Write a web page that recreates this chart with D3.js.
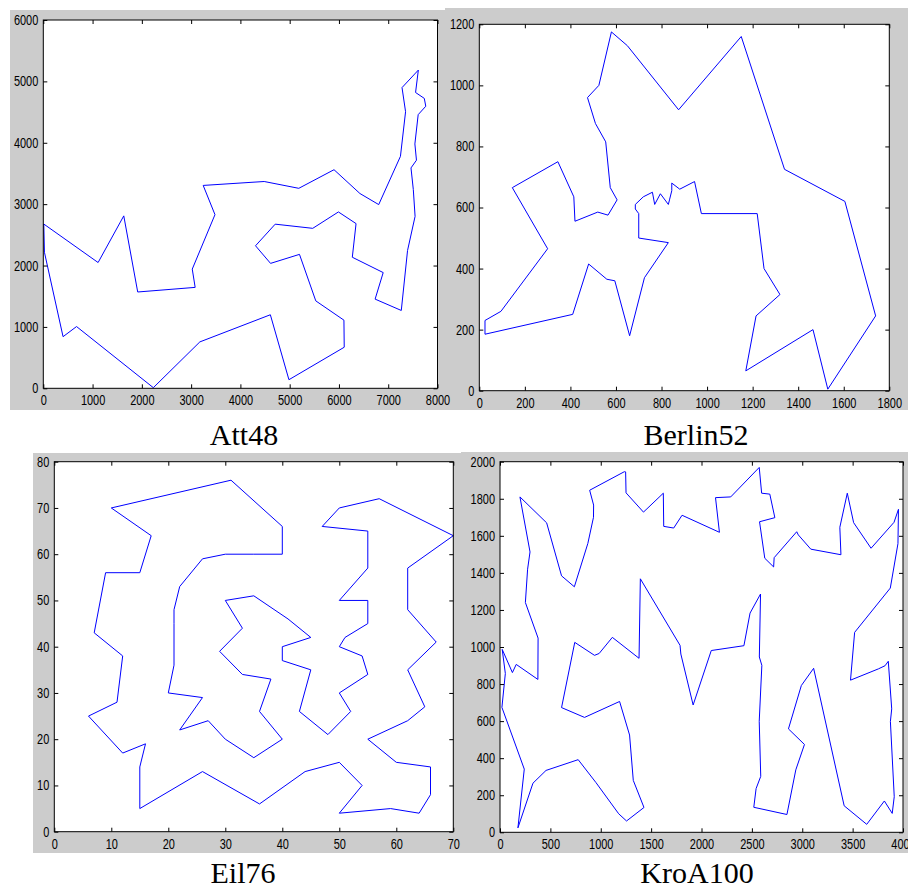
<!DOCTYPE html>
<html>
<head>
<meta charset="utf-8">
<style>
body { margin: 0; background: #fff; }
</style>
</head>
<body>
<script src="https://d3js.org/d3.v7.min.js"></script>
<script>
// window dimensions
var svgWidth = 908;
var svgHeight = 887;

// Att48 tour, cities in visiting order
var att48X = [6734,7265,7392,7545,7509,7462,7573,7541,7608,7762,7732,7555,7611,7280,7352,7248,6807,6426,5900,5185,4483,3245,3484,3023,3082,1916,1633,1112,10,23,401,675,2233,3177,4608,4985,6107,6101,5530,5199,4612,4307,4706,5468,5989,6347,6271,6898]
var att48Y = [1453,1268,2244,2801,3239,3590,3716,3981,4458,4595,4723,4819,5184,4899,4506,3779,2993,3173,3561,3258,3369,3305,2829,1942,1644,1569,2809,2049,2676,2216,841,1006,10,756,1198,140,669,1110,1424,2182,2035,2322,2674,2606,2873,2683,2135,1885]
var att48XTicks = [0,1000,2000,3000,4000,5000,6000,7000,8000]
var att48YTicks = [0,1000,2000,3000,4000,5000,6000]

// Berlin52 tour
var berlin52X = [565,605,575,555,510,475,525,580,650,875,1150,1340,1605,1740,1530,1465,1170,1215,1320,1250,1220,975,945,880,845,845,835,830,795,770,760,720,685,685,700,700,830,725,660,595,560,480,410,25,25,95,300,145,345,415,420,520]
var berlin52Y = [575,625,665,815,875,960,1000,1175,1130,920,1160,725,620,245,5,200,65,245,315,400,580,580,685,660,680,655,625,610,645,610,650,635,610,595,580,500,485,370,180,360,365,415,250,185,230,260,465,665,750,635,555,585]
var berlin52XTicks = [0,200,400,600,800,1000,1200,1400,1600,1800]
var berlin52YTicks = [0,200,400,600,800,1000,1200]

// Eil76 tour
var eil76X = [10,31,40,40,35,30,26,22,21,21,21,20,26,22,27,30,35,40,36,38,33,29,33,30,35,41,45,40,40,45,43,48,52,50,55,54,50,51,55,55,50,55,55,47,50,57,70,62,62,67,62,65,62,55,60,66,66,64,59,50,54,50,44,36,26,15,15,16,12,6,11,12,7,9,15,17]
var eil76Y = [70,76,66,60,60,60,59,53,48,45,36,30,29,22,24,20,16,20,26,33,34,39,44,50,51,46,42,40,37,35,26,21,26,30,34,38,40,42,45,50,50,57,65,66,70,72,64,57,48,41,35,27,24,20,15,14,8,4,5,4,10,15,13,6,13,5,14,19,17,25,28,38,43,56,56,64]
var eil76XTicks = [0,10,20,30,40,50,60,70]
var eil76YTicks = [0,10,20,30,40,50,60,70,80]

// KroA100 tour
var kroA100X = [198,463,611,738,872,928,929,890,1234,1247,1251,1424,1621,1625,1724,1807,2178,2139,2290,2573,2597,2678,2728,2576,2628,2716,2721,2945,2961,3085,3384,3373,3447,3510,3683,3911,3955,3950,3874,3520,3479,3756,3822,3854,3888,3875,3913,3893,3815,3640,3416,3113,2991,2863,3022,2936,2848,2519,2542,2588,2573,2599,2574,2586,2482,2421,2097,1917,1795,1787,1393,1380,1115,984,938,742,611,839,1187,1286,1323,1429,1256,1178,953,776,457,327,178,241,19,53,22,123,161,376,378,252,274,298]
var kroA100Y = [1810,1670,1384,1325,1559,1700,1766,1846,1946,1945,1832,1728,1830,1651,1642,1711,1619,1806,1810,1969,1830,1825,1698,1676,1479,1432,1482,1622,1605,1528,1498,1646,1830,1671,1533,1673,1743,1558,1318,1079,821,882,899,923,666,598,192,102,169,43,143,885,792,558,474,337,96,135,236,302,599,901,946,1286,1183,1007,981,687,962,1009,1368,939,1052,965,955,1025,673,620,706,525,280,134,61,100,268,392,334,265,24,341,674,857,987,862,906,825,1048,1240,1420,1513]
var kroA100XTicks = [0,500,1000,1500,2000,2500,3000,3500,4000]
var kroA100YTicks = [0,200,400,600,800,1000,1200,1400,1600,1800,2000]

var svg = d3.select('body').append('svg')
	.attr('width', svgWidth)
	.attr('height', svgHeight)

// placement of each panel: gray figure area, axes box, title
var panels = [
	{title:'Att48', xs:att48X, ys:att48Y, xt:att48XTicks, yt:att48YTicks,
	 bg:[10,10,437,400], box:[43.3,20,437.5,388.3], tx:244, ty:445},
	{title:'Berlin52', xs:berlin52X, ys:berlin52Y, xt:berlin52XTicks, yt:berlin52YTicks,
	 bg:[445,8,463,402], box:[479.3,24.3,889.3,390.7], tx:696, ty:445},
	{title:'Eil76', xs:eil76X, ys:eil76Y, xt:eil76XTicks, yt:eil76YTicks,
	 bg:[33,453,430,400], box:[54.3,461.7,453.3,831.7], tx:243, ty:883},
	{title:'KroA100', xs:kroA100X, ys:kroA100Y, xt:kroA100XTicks, yt:kroA100YTicks,
	 bg:[461,452,447,401], box:[500,461.7,903,832.3], tx:697, ty:883}
]

// gray backgrounds first so that no label gets covered
panels.forEach(function(p){
	svg.append('rect')
		.attr('x', p.bg[0]).attr('y', p.bg[1])
		.attr('width', p.bg[2]).attr('height', p.bg[3])
		.attr('fill', '#cccccc')
})

var fmt = d3.format('d')

function squeeze(sel){
	sel.selectAll('text')
		.attr('font-family', '"Liberation Sans", Arial, sans-serif')
		.attr('font-size', 14)
		.attr('fill', '#000')
		.attr('lengthAdjust', 'spacingAndGlyphs')
		.attr('textLength', function(){ return this.textContent.length*6.1 })
}

function drawPanel(p){
	var left = p.box[0], top = p.box[1], right = p.box[2], bottom = p.box[3]
	var x = d3.scaleLinear().domain([p.xt[0], p.xt[p.xt.length-1]]).range([left, right])
	var y = d3.scaleLinear().domain([p.yt[0], p.yt[p.yt.length-1]]).range([bottom, top])
	var g = svg.append('g')

	g.append('rect')
		.attr('x', left).attr('y', top)
		.attr('width', right-left).attr('height', bottom-top)
		.attr('fill', '#fff')

	// closed tour
	var pts = p.xs.map(function(d,i){ return [d, p.ys[i]] })
	pts.push(pts[0])
	g.append('path')
		.datum(pts)
		.attr('d', d3.line().x(function(d){ return x(d[0]) }).y(function(d){ return y(d[1]) }))
		.attr('fill', 'none')
		.attr('stroke', '#0000ff')
		.attr('stroke-width', 1)

	var ax = g.append('g').attr('transform', 'translate(0,'+bottom+')')
		.call(d3.axisBottom(x).tickValues(p.xt).tickFormat(fmt).tickSizeInner(-4).tickSizeOuter(0).tickPadding(7))
	squeeze(ax)
	g.append('g').attr('transform', 'translate(0,'+top+')')
		.call(d3.axisTop(x).tickValues(p.xt).tickSizeInner(-4).tickSizeOuter(0).tickFormat(''))
	var ay = g.append('g').attr('transform', 'translate('+left+',0)')
		.call(d3.axisLeft(y).tickValues(p.yt).tickFormat(fmt).tickSizeInner(-4).tickSizeOuter(0).tickPadding(5))
	squeeze(ay)
	g.append('g').attr('transform', 'translate('+right+',0)')
		.call(d3.axisRight(y).tickValues(p.yt).tickSizeInner(-4).tickSizeOuter(0).tickFormat(''))
	g.selectAll('.domain').remove()

	g.append('rect')
		.attr('x', left).attr('y', top)
		.attr('width', right-left).attr('height', bottom-top)
		.attr('fill', 'none')
		.attr('stroke', '#000')
		.attr('stroke-width', 1)

	svg.append('text')
		.attr('x', p.tx).attr('y', p.ty)
		.attr('text-anchor', 'middle')
		.attr('font-family', '"Liberation Serif", "Times New Roman", serif')
		.attr('font-size', 30)
		.text(p.title)
}

panels.forEach(drawPanel)
</script>
</body>
</html>
